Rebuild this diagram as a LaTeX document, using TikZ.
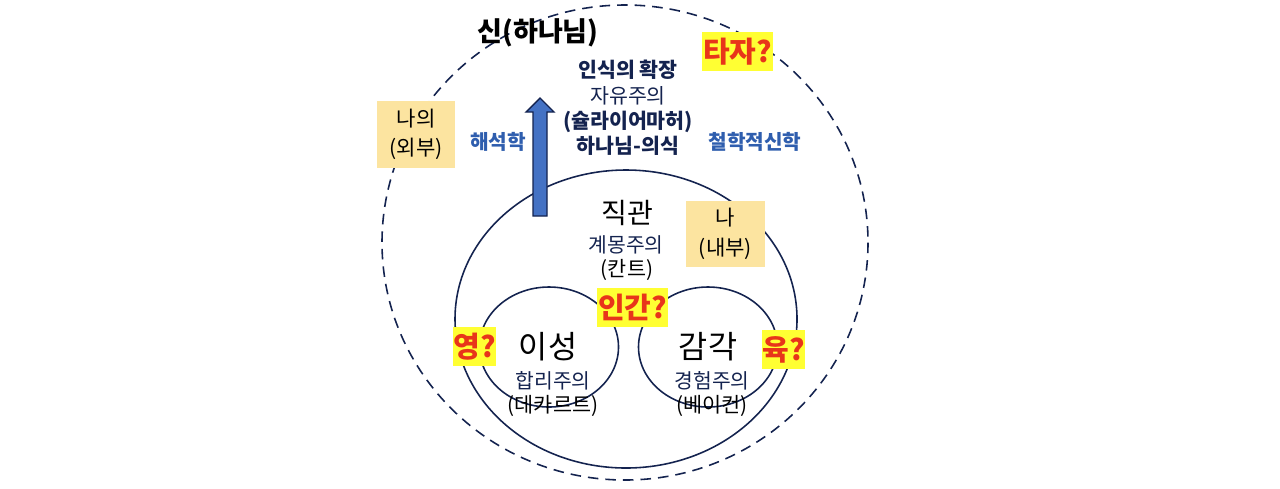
\documentclass[tikz,border=0pt]{standalone}
\usepackage{fontspec}
\setmainfont{Noto Sans CJK KR}
\usepackage{tikz}
\definecolor{navy}{HTML}{14234F}
\definecolor{midblue}{HTML}{2F5EAE}
\definecolor{arrowblue}{HTML}{4472C4}
\definecolor{peach}{HTML}{FCE4A0}
\definecolor{marker}{HTML}{FFFF33}
\definecolor{alarm}{HTML}{E8351A}
\tikzset{
  circleline/.style={draw=navy,line width=0.9pt},
  notebox/.style={fill=peach,align=center,inner sep=0pt,font=\fontsize{12}{16.8}\selectfont},
  askbox/.style={fill=marker,text=alarm,inner sep=0pt,font=\fontsize{16.5}{18}\selectfont\bfseries},
  faculty/.style={inner sep=0pt,font=\fontsize{18}{20}\selectfont},
  school/.style={inner sep=0pt,text=navy,font=\fontsize{11.6}{14}\selectfont},
  person/.style={inner sep=0pt,font=\fontsize{11.8}{14}\selectfont},
  method/.style={inner sep=0pt,text=midblue,font=\fontsize{11.5}{14}\selectfont\bfseries}
}
\begin{document}
\begin{tikzpicture}[x=0.02cm,y=-0.02cm]
\useasboundingbox (0,0) rectangle (1280,488);
% circles
\draw[circleline,dash pattern=on 6pt off 4pt] (625,242.5) ellipse (243 and 237.5);
\draw[circleline] (626,319) ellipse (171 and 149);
\draw[circleline] (549,347) ellipse (69.5 and 60);
\draw[circleline] (708,347) ellipse (69.5 and 60);
% arrow
\draw[draw=navy,fill=arrowblue,line width=0.8pt] (533,216) -- (533,112) -- (526,112) -- (540,98)
  -- (554,112) -- (547,112) -- (547,216) -- cycle;
% title and upper texts
\node[inner sep=0pt,font=\fontsize{15.4}{18}\selectfont\bfseries] (god) at (538,33) {신(하나님)};
\node[inner sep=0pt,align=center,text=navy,font=\fontsize{11.7}{14.4}\selectfont] (growth) at (628,108)
  {\textbf{인식의 확장}\\자유주의\\\textbf{(슐라이어마허)}\\\textbf{하나님-의식}};
\node[method] (hermeneutics) at (498,142) {해석학};
\node[method] (theology) at (755,142) {철학적신학};
% faculties
\node[faculty,font=\fontsize{16}{20}\selectfont] (intuition) at (627,213) {직관};
\node[school] (enlight) at (626,245) {계몽주의};
\node[person] (kant) at (627,270) {(칸트)};
\node[faculty] (reason) at (548,347) {이성};
\node[school] (rational) at (553,381) {합리주의};
\node[person] (descartes) at (553,406) {(데카르트)};
\node[faculty] (sense) at (708,347) {감각};
\node[school] (empiric) at (712,381) {경험주의};
\node[person] (bacon) at (712,406) {(베이컨)};
% boxes
\node[notebox,minimum width=78*0.02cm,minimum height=67*0.02cm] (outside) at (416,134.5) {나의\\(외부)};
\node[notebox,minimum width=79*0.02cm,minimum height=66*0.02cm] (inside) at (725.5,234) {나\\(내부)};
\node[askbox,minimum width=71*0.02cm,minimum height=39*0.02cm] (other) at (737.5,51.5) {타자?};
\node[askbox,minimum width=71*0.02cm,minimum height=39*0.02cm] (human) at (632.5,307.5) {인간?};
\node[askbox,minimum width=43*0.02cm,minimum height=39*0.02cm] (spirit) at (474.5,346.5) {영?};
\node[askbox,minimum width=43*0.02cm,minimum height=39*0.02cm] (flesh) at (783.5,349.5) {육?};
\end{tikzpicture}
\end{document}
